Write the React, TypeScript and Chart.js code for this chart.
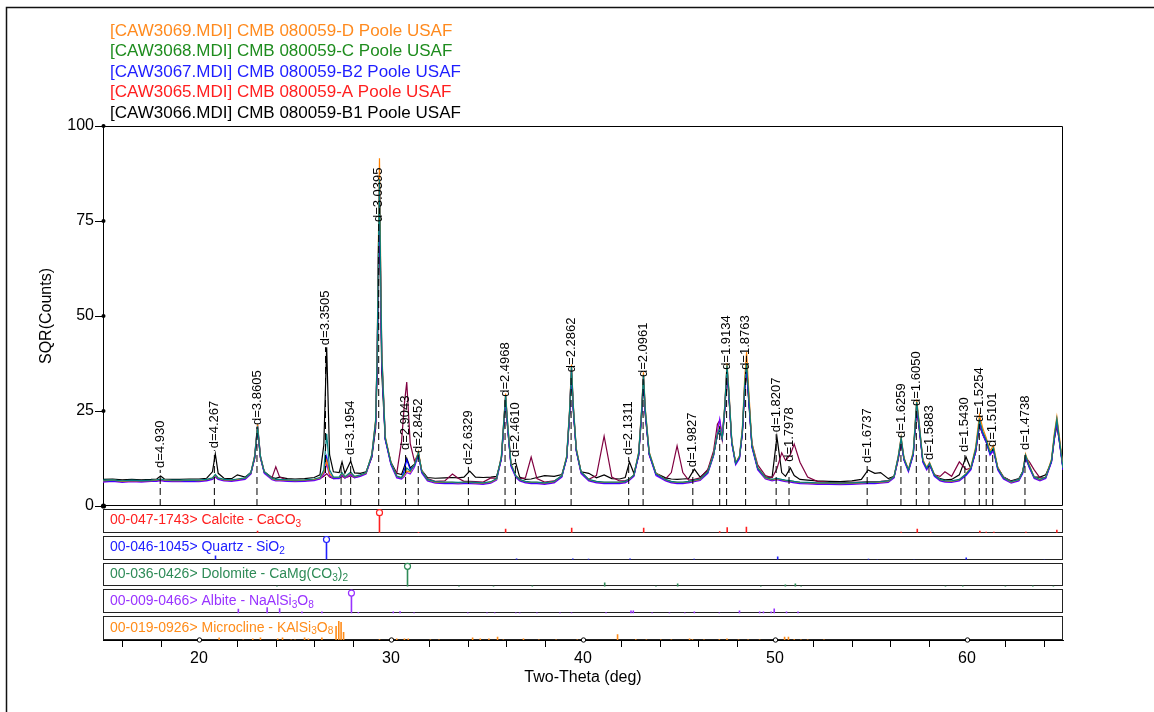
import React, { useEffect, useRef } from 'react';
import { Chart, registerables } from 'chart.js';
Chart.register(...registerables);

const FONT = "'Liberation Sans', Arial, Helvetica, sans-serif";

// ---- two-theta grid (deg) shared by all scans ----
const twoTheta = [
  15.0, 15.5, 16.0, 16.5, 17.0, 17.5, 17.8, 18.0, 18.2, 18.6,
  19.0, 19.5, 20.0, 20.4, 20.7, 20.85, 21.0, 21.3, 21.7, 22.0,
  22.4, 22.7, 22.9, 23.05, 23.2, 23.4, 23.8, 24.0, 24.2, 24.6,
  25.0, 25.5, 26.0, 26.3, 26.5, 26.65, 26.8, 27.0, 27.3, 27.45,
  27.6, 27.9, 28.1, 28.4, 28.7, 29.0, 29.2, 29.28, 29.34, 29.4,
  29.46, 29.52, 29.7, 30.0, 30.3, 30.55, 30.7, 30.82, 31.0, 31.22,
  31.43, 31.6, 31.9, 32.3, 32.8, 33.2, 33.5, 33.8, 34.1, 34.4,
  34.8, 35.2, 35.5, 35.75, 35.87, 35.97, 36.07, 36.25, 36.5, 36.7,
  37.0, 37.3, 37.6, 38.0, 38.5, 38.9, 39.15, 39.3, 39.4, 39.5,
  39.65, 39.9, 40.3, 40.7, 41.1, 41.5, 41.9, 42.2, 42.42, 42.65,
  42.9, 43.05, 43.15, 43.25, 43.45, 43.8, 44.3, 44.6, 44.9, 45.2,
  45.5, 45.8, 46.1, 46.5, 46.8, 47.0, 47.12, 47.25, 47.38, 47.5,
  47.6, 47.75, 47.95, 48.15, 48.3, 48.42, 48.52, 48.62, 48.8, 49.1,
  49.5, 49.85, 50.1, 50.35, 50.55, 50.8, 51.0, 51.3, 51.7, 52.2,
  52.8, 53.4, 54.0, 54.5, 54.85, 55.2, 55.5, 55.9, 56.2, 56.42,
  56.57, 56.72, 56.95, 57.2, 57.38, 57.5, 57.7, 57.9, 58.05, 58.3,
  58.6, 58.85, 59.2, 59.6, 59.95, 60.2, 60.45, 60.65, 60.82, 61.0,
  61.2, 61.38, 61.6, 61.9, 62.3, 62.7, 62.9, 63.05, 63.25, 63.5,
  63.8, 64.1, 64.4, 64.55, 64.68, 64.8, 65.0,
];

// ---- SQR(Counts) per scan ----
const scanTeal = [
  6.8, 6.9, 6.6, 6.8, 6.7, 6.8, 6.9, 7.1, 6.9, 6.8,
  6.8, 6.9, 6.8, 7.0, 7.4, 8.3, 7.4, 7.0, 6.9, 7.1,
  7.4, 8.8, 13.0, 21.0, 13.0, 9.0, 7.3, 7.0, 7.0, 6.9,
  6.8, 6.9, 7.1, 7.5, 9.5, 19.0, 9.5, 7.6, 7.6, 8.8,
  7.7, 8.9, 7.8, 8.2, 8.8, 13.5, 22.5, 40.0, 66.0, 86.0,
  62.0, 40.0, 18.0, 11.3, 7.9, 7.5, 8.5, 10.0, 9.2, 10.8,
  14.0, 9.2, 7.0, 6.4, 6.3, 6.3, 6.2, 6.3, 6.3, 6.2,
  6.1, 6.4, 7.2, 13.0, 22.0, 29.2, 22.0, 11.0, 8.0, 7.0,
  6.5, 6.3, 6.3, 6.1, 6.5, 8.0, 13.0, 25.0, 36.6, 26.0,
  15.0, 9.0, 7.0, 6.5, 6.3, 6.3, 6.3, 6.5, 7.2, 8.2,
  14.0, 25.0, 34.5, 25.0, 14.0, 8.5, 7.0, 6.5, 6.3, 6.3,
  6.5, 6.8, 7.1, 9.0, 13.5, 19.0, 20.5, 18.0, 26.0, 37.0,
  30.0, 17.0, 11.3, 13.0, 20.0, 32.0, 37.6, 30.0, 16.0, 10.0,
  7.5, 7.0, 7.3, 7.0, 6.8, 6.7, 6.5, 6.3, 6.2, 6.1,
  6.1, 6.0, 6.1, 6.2, 6.3, 6.3, 6.4, 6.6, 7.8, 13.0,
  17.9, 12.5, 9.5, 14.0, 27.4, 22.0, 12.0, 10.0, 11.3, 8.2,
  7.0, 6.7, 6.6, 7.0, 8.4, 10.0, 15.0, 22.6, 19.5, 17.4,
  14.0, 15.3, 10.0, 7.5, 6.4, 7.0, 9.0, 13.4, 10.5, 7.6,
  7.0, 7.6, 12.0, 18.5, 22.9, 18.0, 10.0,
];
const scanBlue = [
  6.5, 6.7, 6.4, 6.6, 6.5, 6.6, 6.7, 6.9, 6.7, 6.6,
  6.6, 6.7, 6.6, 6.8, 7.2, 8.0, 7.2, 6.8, 6.7, 6.9,
  7.2, 8.6, 13.2, 21.3, 13.2, 8.9, 7.1, 6.8, 6.8, 6.7,
  6.6, 6.7, 6.9, 7.3, 8.8, 13.0, 8.6, 7.4, 7.4, 8.5,
  7.5, 8.6, 7.6, 8.0, 8.6, 13.3, 22.3, 39.5, 65.0, 85.0,
  61.0, 39.5, 17.8, 11.1, 7.7, 7.3, 9.5, 12.2, 9.6, 10.6,
  13.8, 9.0, 6.8, 6.2, 6.1, 6.1, 6.0, 6.1, 6.1, 6.0,
  5.9, 6.2, 7.0, 12.8, 21.8, 29.0, 21.7, 10.8, 7.8, 6.8,
  6.3, 6.1, 6.1, 5.9, 6.3, 7.8, 12.8, 24.8, 36.3, 25.7,
  14.8, 8.8, 6.8, 6.3, 6.1, 6.1, 6.1, 6.3, 7.0, 8.0,
  13.8, 24.8, 34.2, 24.7, 13.8, 8.3, 6.8, 6.3, 6.1, 6.1,
  6.3, 6.6, 6.9, 8.8, 13.3, 18.8, 20.3, 17.8, 25.8, 36.8,
  29.8, 16.8, 11.1, 12.8, 19.8, 31.8, 37.3, 29.7, 15.8, 9.8,
  7.3, 6.8, 7.1, 6.8, 6.6, 6.5, 6.3, 6.1, 6.0, 5.9,
  5.9, 5.8, 5.9, 6.0, 6.1, 6.1, 6.2, 6.4, 7.6, 12.8,
  17.7, 12.3, 9.3, 13.8, 27.1, 21.8, 11.8, 9.8, 11.1, 8.0,
  6.8, 6.5, 6.4, 6.8, 8.2, 9.8, 14.8, 22.4, 19.3, 17.2,
  13.8, 15.1, 9.8, 7.3, 6.2, 6.8, 8.8, 13.2, 10.3, 7.4,
  6.8, 7.4, 11.8, 18.3, 22.6, 17.8, 9.8,
];
const scanPurple = [
  6.3, 6.5, 6.2, 6.4, 6.3, 6.5, 6.5, 6.7, 6.5, 6.4,
  6.4, 6.5, 6.4, 6.6, 7.0, 7.6, 7.0, 6.6, 6.5, 6.7,
  7.0, 8.4, 12.8, 20.8, 12.7, 8.6, 6.9, 6.6, 6.6, 6.5,
  6.4, 6.5, 6.7, 7.1, 8.3, 11.0, 8.0, 7.2, 7.2, 8.2,
  7.3, 8.3, 7.4, 7.8, 8.4, 13.0, 21.8, 38.5, 63.0, 83.0,
  59.0, 38.5, 17.4, 10.8, 7.4, 7.1, 7.8, 8.8, 8.4, 10.2,
  13.4, 8.7, 6.6, 6.0, 5.9, 5.9, 5.8, 5.9, 5.9, 5.8,
  5.7, 6.0, 6.8, 12.4, 21.2, 28.4, 21.0, 10.4, 7.5, 6.6,
  6.1, 5.9, 5.9, 5.7, 6.1, 7.6, 12.5, 24.2, 35.6, 25.0,
  14.4, 8.5, 6.6, 6.1, 5.9, 5.9, 5.9, 6.1, 6.8, 7.8,
  13.4, 24.2, 33.5, 24.0, 13.4, 8.0, 6.6, 6.1, 5.9, 5.9,
  6.1, 6.4, 6.7, 8.6, 13.2, 19.5, 22.9, 18.5, 25.4, 36.3,
  29.2, 16.4, 10.8, 12.4, 19.3, 31.0, 36.7, 29.0, 15.4, 9.5,
  7.1, 6.6, 6.9, 6.6, 6.4, 6.3, 6.1, 5.9, 5.8, 5.7,
  5.7, 5.6, 5.7, 5.8, 5.9, 5.9, 6.0, 6.2, 7.4, 12.5,
  17.2, 12.0, 9.0, 13.4, 26.5, 21.2, 11.5, 9.5, 10.8, 7.8,
  6.6, 6.3, 6.2, 6.6, 8.0, 9.5, 14.4, 21.8, 18.8, 16.8,
  13.4, 14.6, 9.5, 7.1, 6.0, 6.6, 8.5, 12.8, 10.0, 7.2,
  6.6, 7.2, 11.5, 17.8, 22.0, 17.3, 9.5,
];
const scanOrange = [
  6.6, 6.8, 6.5, 6.7, 6.6, 6.7, 6.8, 7.0, 6.8, 6.7,
  6.7, 6.8, 6.7, 6.9, 7.3, 8.1, 7.3, 6.9, 6.8, 7.0,
  7.3, 8.7, 13.3, 21.5, 13.2, 9.0, 7.2, 6.9, 6.9, 6.8,
  6.7, 6.8, 7.0, 7.4, 8.9, 12.0, 8.5, 7.5, 7.5, 8.6,
  7.6, 8.7, 7.7, 8.1, 8.7, 13.6, 22.8, 41.0, 68.0, 91.5,
  65.0, 41.0, 18.3, 11.4, 7.8, 7.4, 8.2, 9.2, 8.9, 10.9,
  14.3, 9.3, 6.9, 6.3, 6.2, 6.2, 6.1, 6.2, 6.2, 6.1,
  6.0, 6.3, 7.1, 13.2, 22.3, 29.6, 22.2, 11.2, 8.0, 6.9,
  6.4, 6.2, 6.2, 6.0, 6.4, 8.0, 13.2, 25.4, 37.2, 26.4,
  15.2, 9.0, 6.9, 6.4, 6.2, 6.2, 6.2, 6.4, 7.1, 8.2,
  14.2, 25.4, 35.2, 25.4, 14.2, 8.6, 6.9, 6.4, 6.2, 6.2,
  6.4, 6.7, 7.0, 9.0, 13.6, 19.2, 20.8, 18.2, 26.4, 37.6,
  30.5, 17.3, 11.4, 13.2, 20.6, 33.5, 40.5, 31.6, 16.4, 10.1,
  7.4, 6.9, 7.2, 6.9, 6.7, 6.6, 6.4, 6.2, 6.1, 6.0,
  6.0, 5.9, 6.0, 6.1, 6.2, 6.2, 6.3, 6.5, 7.8, 13.2,
  18.2, 12.7, 9.6, 14.3, 28.0, 22.5, 12.2, 10.2, 11.5, 8.3,
  6.9, 6.6, 6.5, 6.9, 8.5, 10.2, 15.5, 24.0, 20.5, 18.0,
  14.5, 15.9, 10.2, 7.5, 6.3, 6.9, 9.1, 13.7, 10.7, 7.6,
  6.9, 7.6, 12.3, 19.2, 23.5, 18.8, 10.2,
];
const scanMaroon = [
  6.6, 6.7, 6.5, 6.6, 6.5, 6.7, 6.7, 6.9, 6.7, 6.6,
  6.6, 6.7, 6.7, 6.8, 7.1, 7.6, 7.1, 6.8, 6.7, 6.9,
  7.2, 8.5, 12.5, 20.2, 12.6, 8.8, 7.4, 10.3, 7.6, 6.8,
  6.7, 6.7, 6.9, 7.2, 7.8, 8.5, 7.6, 7.2, 7.3, 7.8,
  7.4, 7.9, 7.5, 7.9, 8.6, 13.0, 21.5, 38.0, 62.0, 82.0,
  58.0, 38.0, 17.8, 11.0, 8.6, 17.0, 27.0, 32.6, 16.5, 11.8,
  13.8, 9.2, 7.2, 6.5, 6.6, 8.4, 7.3, 6.5, 6.5, 6.4,
  6.3, 7.4, 7.3, 12.5, 21.0, 28.2, 21.0, 10.6, 7.8, 7.2,
  7.4, 12.9, 7.2, 6.3, 6.6, 7.9, 12.6, 24.0, 35.2, 25.0,
  14.6, 8.8, 7.0, 8.0, 18.4, 7.6, 6.6, 6.7, 7.0, 8.0,
  13.5, 24.0, 33.2, 24.0, 13.6, 8.4, 7.1, 8.8, 15.8, 8.8,
  6.8, 7.0, 7.4, 9.6, 14.5, 21.5, 22.5, 17.5, 24.5, 35.6,
  28.8, 16.8, 11.2, 12.8, 19.2, 30.6, 36.0, 28.8, 16.5, 10.8,
  8.0, 7.4, 9.8, 14.0, 12.0, 13.5, 16.3, 11.5, 7.6, 6.5,
  6.2, 6.1, 6.2, 6.3, 6.4, 6.4, 6.5, 6.7, 7.6, 12.2,
  17.0, 12.2, 9.4, 13.5, 26.0, 21.0, 11.8, 9.8, 10.8, 8.2,
  7.8, 9.0, 7.8, 11.6, 9.6, 10.0, 14.2, 21.5, 19.0, 17.0,
  14.0, 14.8, 10.2, 7.6, 6.5, 7.0, 9.0, 12.8, 11.6, 9.5,
  7.4, 7.5, 11.8, 17.8, 21.5, 17.6, 10.2,
];
const scanBlack = [
  7.0, 7.1, 6.9, 7.0, 6.9, 7.0, 7.1, 7.9, 7.1, 7.0,
  7.0, 7.1, 7.1, 7.3, 9.0, 13.7, 8.6, 7.3, 7.2, 8.2,
  7.6, 8.8, 12.6, 20.5, 12.8, 9.0, 7.5, 7.3, 7.6, 7.2,
  7.1, 7.2, 7.5, 8.2, 16.0, 41.8, 13.5, 9.0, 8.8, 11.6,
  8.6, 11.8, 8.7, 8.6, 9.0, 12.8, 20.5, 35.0, 58.0, 77.0,
  54.0, 35.0, 17.5, 11.5, 8.6, 8.3, 10.5, 12.6, 10.0, 11.0,
  13.6, 9.4, 7.5, 7.3, 7.4, 7.5, 7.4, 7.6, 9.2, 7.6,
  7.5, 7.6, 7.8, 12.4, 20.8, 27.8, 20.6, 10.8, 11.3, 7.6,
  7.0, 7.1, 7.5, 8.0, 7.8, 8.3, 12.6, 23.5, 34.5, 24.6,
  14.6, 9.0, 8.6, 7.4, 8.2, 7.2, 7.1, 7.5, 11.6, 8.6,
  13.2, 23.6, 32.6, 23.6, 13.5, 8.6, 7.4, 7.1, 7.0, 7.1,
  7.2, 9.7, 7.6, 9.4, 13.5, 18.6, 20.0, 17.6, 25.0, 35.2,
  28.6, 16.6, 11.4, 12.8, 19.0, 30.2, 35.4, 28.4, 15.6, 9.9,
  7.6, 7.6, 18.2, 8.8, 7.8, 10.0, 8.0, 7.0, 6.8, 6.6,
  6.5, 6.4, 6.6, 7.0, 9.5, 8.6, 8.8, 7.2, 7.8, 12.6,
  17.0, 12.3, 9.5, 13.6, 25.8, 20.8, 11.8, 9.9, 11.0, 8.2,
  7.2, 6.9, 7.0, 8.2, 12.9, 9.8, 14.2, 21.2, 18.8, 16.8,
  13.8, 14.6, 10.0, 7.6, 6.6, 7.2, 9.0, 12.6, 10.2, 7.6,
  7.6, 8.2, 11.6, 17.6, 21.2, 17.4, 10.0,
];

// ---- legend ----
const legendLabels = [
  '[CAW3069.MDI] CMB 080059-D Poole USAF',
  '[CAW3068.MDI] CMB 080059-C Poole USAF',
  '[CAW3067.MDI] CMB 080059-B2 Poole USAF',
  '[CAW3065.MDI] CMB 080059-A Poole USAF',
  '[CAW3066.MDI] CMB 080059-B1 Poole USAF',
];
const legendColors = ['#ff8a1e', '#1e8c1e', '#1e1eff', '#ff1e1e', '#000000'];

// ---- d-spacing markers ----
const dPos = [17.98, 20.80, 23.02, 26.59, 27.40, 27.90, 29.36, 30.76, 31.42, 34.03, 35.94, 36.48, 39.38, 42.38, 43.13, 45.72, 47.12, 47.48, 48.47, 50.06, 50.73, 54.80, 56.56, 57.36, 58.02, 59.89, 60.64, 61.00, 61.34, 63.02];
const dTop = [9.5, 14.7, 20.8, 41.8, 10.5, 12.9, 74.2, 14.2, 13.4, 10.3, 28.2, 12.4, 34.7, 12.9, 33.4, 9.7, 21.0, 35.3, 35.3, 18.9, 11.1, 10.8, 17.4, 25.8, 11.6, 13.7, 21.6, 17.0, 15.0, 14.2];
const dLabel = ['d=4.930', 'd=4.267', 'd=3.8605', 'd=3.3505', '', 'd=3.1954', 'd=3.0395', 'd=2.9043', 'd=2.8452', 'd=2.6329', 'd=2.4968', 'd=2.4610', 'd=2.2862', 'd=2.1311', 'd=2.0961', 'd=1.9827', '', 'd=1.9134', 'd=1.8763', 'd=1.8207', 'd=1.7978', 'd=1.6737', 'd=1.6259', 'd=1.6050', 'd=1.5883', 'd=1.5430', 'd=1.5254', '', 'd=1.5101', 'd=1.4738'];

// ---- reference patterns (2-theta, relative intensity %) ----
const calcitePos = [23.05, 29.40, 31.43, 35.97, 39.41, 43.16, 47.12, 47.51, 48.51, 56.57, 57.41, 58.10, 60.67, 61.00, 61.40, 63.07, 64.68];
const calciteInt = [10, 100, 4, 20, 25, 25, 8, 28, 30, 5, 20, 5, 10, 5, 5, 5, 15];
const quartzPos = [20.86, 26.64, 36.54, 39.47, 40.29, 42.45, 45.79, 50.14, 54.87, 55.33, 57.24, 59.96, 64.03];
const quartzInt = [20, 100, 6, 6, 4, 5, 4, 15, 4, 2, 2, 10, 2];
const dolomitePos = [24.06, 30.86, 33.54, 35.34, 37.36, 41.13, 43.80, 44.93, 49.26, 50.54, 51.06, 51.36, 58.88, 59.78, 62.00, 63.43, 64.50];
const dolomiteInt = [3, 100, 3, 3, 5, 20, 3, 14, 3, 10, 14, 3, 3, 5, 3, 4, 3];
const albitePos = [22.05, 23.55, 24.20, 25.36, 26.40, 27.94, 28.30, 30.12, 30.47, 31.20, 34.00, 35.00, 35.40, 36.50, 36.70, 37.60, 38.80, 39.40, 41.20, 42.50, 42.62, 43.60, 44.50, 45.30, 45.80, 47.10, 48.15, 49.20, 49.40, 49.80, 49.96, 50.60, 51.20];
const albiteInt = [22, 30, 25, 8, 8, 100, 6, 8, 10, 4, 3, 3, 3, 3, 3, 3, 3, 3, 5, 14, 14, 4, 4, 4, 8, 4, 14, 8, 8, 8, 24, 8, 8];
const microclinePos = [21.05, 22.30, 22.80, 23.20, 24.10, 24.35, 24.80, 25.00, 25.50, 25.70, 26.40, 27.14, 27.28, 27.40, 27.53, 29.40, 30.10, 30.30, 30.70, 30.90, 32.05, 32.50, 34.25, 34.65, 35.10, 35.55, 35.85, 36.90, 37.70, 38.60, 39.70, 41.80, 42.75, 43.30, 44.05, 44.60, 45.55, 45.70, 46.30, 47.10, 47.50, 48.10, 48.60, 49.20, 50.50, 50.70, 51.00, 51.35, 51.70, 52.55];
const microclineInt = [12, 3, 8, 12, 8, 12, 3, 3, 12, 8, 12, 70, 95, 90, 40, 4, 8, 8, 8, 8, 3, 3, 12, 8, 8, 16, 3, 8, 3, 3, 3, 28, 4, 3, 3, 3, 8, 4, 3, 4, 8, 3, 3, 3, 16, 16, 4, 3, 3, 3];

const phaseColors = ['#ff2020', '#2020ff', '#2e8b57', '#9933ff', '#ff8c1a'];
const phaseLabels: [string, number][][] = [
  [['00-047-1743> Calcite - CaCO', 0], ['3', 1]],
  [['00-046-1045> Quartz - SiO', 0], ['2', 1]],
  [['00-036-0426> Dolomite - CaMg(CO', 0], ['3', 1], [')', 0], ['2', 1]],
  [['00-009-0466> Albite - NaAlSi', 0], ['3', 1], ['O', 0], ['8', 1]],
  [['00-019-0926> Microcline - KAlSi', 0], ['3', 1], ['O', 0], ['8', 1]],
];
const phasePos = [calcitePos, quartzPos, dolomitePos, albitePos, microclinePos];
const phaseInt = [calciteInt, quartzInt, dolomiteInt, albiteInt, microclineInt];

const xTickValues = [16, 18, 20, 22, 24, 26, 28, 30, 32, 34, 36, 38, 40, 42, 44, 46, 48, 50, 52, 54, 56, 58, 60, 62, 64];
const yTickValues = [0, 25, 50, 75, 100];

const STICK_SCALE = 0.75; // 100% stick height, in panel units
const PANEL_FILL = 0.89;  // box height in panel units

function drawRich(ctx: any, segs: [string, number][], x: number, y: number, size: number, color: string) {
  let cx = x;
  ctx.fillStyle = color;
  ctx.textBaseline = 'middle';
  ctx.textAlign = 'left';
  for (const [t, sub] of segs) {
    ctx.font = `${sub ? size * 0.72 : size}px ${FONT}`;
    ctx.fillText(t, cx, sub ? y + size * 0.28 : y);
    cx += ctx.measureText(t).width;
  }
}

const decorPlugin = {
  id: 'decor',
  beforeDatasetsDraw(chart: any) {
    const { ctx, chartArea, scales } = chart;
    const yM = scales.yMain;
    const yP = scales.yP;
    const L = Math.round(chartArea.left) + 0.5;
    const R = Math.round(chartArea.right) - 0.5;
    ctx.save();
    ctx.strokeStyle = '#000';
    ctx.lineWidth = 1;
    const t = Math.round(yM.getPixelForValue(100)) + 0.5;
    const b = Math.round(yM.getPixelForValue(0)) - 0.5;
    ctx.beginPath();
    ctx.moveTo(L, t); ctx.lineTo(R, t); ctx.lineTo(R, b); ctx.lineTo(L, b);
    ctx.stroke();
    for (let i = 0; i < 5; i++) {
      const base = 4 - i;
      const y1 = Math.round(yP.getPixelForValue(base + PANEL_FILL)) + 0.5;
      const y2 = Math.round(yP.getPixelForValue(base)) - 0.5;
      ctx.strokeStyle = '#222';
      ctx.strokeRect(L, y1, R - L, y2 - y1);
      drawRich(ctx, phaseLabels[i], 110, yP.getPixelForValue(base + 0.46), 14, phaseColors[i]);
    }
    ctx.restore();
  },
  afterDatasetsDraw(chart: any) {
    const { ctx, chartArea, scales } = chart;
    const x = scales.x;
    const yM = scales.yMain;
    ctx.save();
    // d labels
    ctx.fillStyle = '#000';
    ctx.font = `13px ${FONT}`;
    ctx.textAlign = 'left';
    ctx.textBaseline = 'middle';
    dPos.forEach((p, i) => {
      if (!dLabel[i]) return;
      const px = x.getPixelForValue(p);
      const py = yM.getPixelForValue(dTop[i]) - 2;
      ctx.save();
      ctx.translate(px, py);
      ctx.rotate(-Math.PI / 2);
      ctx.fillText(dLabel[i], 0, 0);
      ctx.restore();
    });
    // y tick dots
    ctx.fillStyle = '#000';
    yTickValues.forEach((v) => {
      ctx.beginPath();
      ctx.arc(chartArea.left + 0.5, yM.getPixelForValue(v), v === 0 ? 2.6 : 2, 0, Math.PI * 2);
      ctx.fill();
    });
    // x tick marks (minor) and circles (major)
    ctx.strokeStyle = '#000';
    ctx.lineWidth = 1;
    xTickValues.forEach((v) => {
      const px = Math.round(x.getPixelForValue(v)) + 0.5;
      if (v % 10 === 0) {
        ctx.beginPath();
        ctx.arc(px, chartArea.bottom, 2.2, 0, Math.PI * 2);
        ctx.fillStyle = '#fff';
        ctx.fill();
        ctx.stroke();
      } else {
        ctx.beginPath();
        ctx.moveTo(px, chartArea.bottom);
        ctx.lineTo(px, chartArea.bottom + 7);
        ctx.stroke();
      }
    });
    ctx.restore();
  },
  afterDraw(chart: any) {
    const { ctx } = chart;
    ctx.save();
    ctx.font = `17px ${FONT}`;
    ctx.textAlign = 'left';
    ctx.textBaseline = 'middle';
    legendLabels.forEach((l, i) => {
      ctx.fillStyle = legendColors[i];
      ctx.fillText(l, 110, 31 + i * 20.5);
    });
    ctx.strokeStyle = '#111';
    ctx.lineWidth = 1.5;
    ctx.beginPath();
    ctx.moveTo(6.5, 720);
    ctx.lineTo(6.5, 7.5);
    ctx.lineTo(1160, 7.5);
    ctx.stroke();
    ctx.restore();
  },
};

export default function App() {
  const ref = useRef<HTMLCanvasElement | null>(null);
  useEffect(() => {
    const canvas = ref.current;
    if (!canvas) return;
    const scans = [
      { data: scanTeal, color: '#008080' },
      { data: scanOrange, color: '#ff8000' },
      { data: scanBlue, color: '#0000ff' },
      { data: scanPurple, color: '#8000ff' },
      { data: scanMaroon, color: '#800040' },
      { data: scanBlack, color: '#000000' },
    ];
    const markerData: any[] = [];
    dPos.forEach((p, i) => {
      markerData.push({ x: p, y: 0 }, { x: p, y: dTop[i] }, { x: p, y: null });
    });
    const datasets: any[] = [];
    datasets.push({
      type: 'line', label: 'markers', data: markerData, yAxisID: 'yMain', xAxisID: 'x',
      borderColor: '#000', borderWidth: 1, borderDash: [7, 4], pointRadius: 0, spanGaps: false,
    });
    phasePos.forEach((pos, i) => {
      const base = 4 - i;
      const pts: any[] = [];
      pos.forEach((p, j) => {
        if (phaseInt[i][j] === 100) pts.push({ x: p, y: base + STICK_SCALE });
      });
      datasets.push({
        type: 'line', label: 'circle' + i, data: pts, yAxisID: 'yP', xAxisID: 'x', showLine: false,
        pointRadius: 3, pointBackgroundColor: '#fff', pointBorderColor: phaseColors[i], pointBorderWidth: 1.2,
      });
    });
    phasePos.forEach((pos, i) => {
      const base = 4 - i;
      const pts: any[] = [];
      pos.forEach((p, j) => {
        pts.push({ x: p, y: base }, { x: p, y: base + (phaseInt[i][j] / 100) * STICK_SCALE }, { x: p, y: null });
      });
      datasets.push({
        type: 'line', label: 'sticks' + i, data: pts, yAxisID: 'yP', xAxisID: 'x',
        borderColor: phaseColors[i], borderWidth: 1.6, borderCapStyle: 'butt', pointRadius: 0, spanGaps: false,
      });
    });
    scans.forEach((s, i) => {
      datasets.push({
        type: 'line', label: 'scan' + i, data: twoTheta.map((t, k) => ({ x: t, y: s.data[k] })),
        yAxisID: 'yMain', xAxisID: 'x', borderColor: s.color, borderWidth: 1.2, pointRadius: 0, tension: 0,
      });
    });

    const tickFont = { family: FONT, size: 16 };
    const chart = new Chart(canvas, {
      type: 'line',
      data: { datasets },
      options: {
        responsive: false,
        animation: false,
        devicePixelRatio: 1,
        events: [],
        layout: { padding: { left: 0, right: 91, top: 126, bottom: 0 } },
        plugins: { legend: { display: false }, tooltip: { enabled: false }, title: { display: false } },
        scales: {
          x: {
            type: 'linear', position: 'bottom', min: 15, max: 65,
            afterBuildTicks: (s: any) => { s.ticks = xTickValues.map((v) => ({ value: v })); },
            afterFit: (s: any) => { s.height = 72; },
            ticks: {
              autoSkip: false, maxRotation: 0, minRotation: 0, font: tickFont, color: '#000', padding: 3,
              callback: (v: any) => (Number(v) % 10 === 0 ? String(v) : ''),
            },
            grid: { drawOnChartArea: false, drawTicks: true, tickLength: 6, color: 'rgba(0,0,0,0)', tickColor: 'rgba(0,0,0,0)' },
            border: { display: true, color: '#000', width: 1 },
            title: { display: true, text: 'Two-Theta (deg)', font: tickFont, color: '#000', padding: { top: 0, bottom: 24.4 } },
          },
          yMain: {
            type: 'linear', position: 'left', stack: 'left', stackWeight: 380, weight: 1,
            min: 0, max: 100,
            afterBuildTicks: (s: any) => { s.ticks = yTickValues.map((v) => ({ value: v })); },
            afterFit: (s: any) => { s.width = 103; },
            ticks: { font: tickFont, color: '#000', padding: 1 },
            grid: { drawOnChartArea: false, drawTicks: true, tickLength: 8, color: '#000', tickColor: '#000' },
            border: { display: true, color: '#000', width: 1 },
            title: { display: true, text: 'SQR(Counts)', font: tickFont, color: '#000', padding: { top: 37.4, bottom: 0 } },
          },
          yP: {
            type: 'linear', position: 'left', stack: 'left', stackWeight: 134, weight: 0,
            min: 0, max: 5,
            afterFit: (s: any) => { s.width = 103; },
            ticks: { display: false },
            grid: { display: false },
            border: { display: false },
          },
        },
      } as any,
      plugins: [decorPlugin],
    });
    return () => chart.destroy();
  }, []);
  return (
    <div style={{ position: 'absolute', left: 0, top: 0, width: 1154, height: 712, background: '#fff' }}>
      <canvas ref={ref} width={1154} height={712} style={{ display: 'block', width: 1154, height: 712 }} />
    </div>
  );
}
